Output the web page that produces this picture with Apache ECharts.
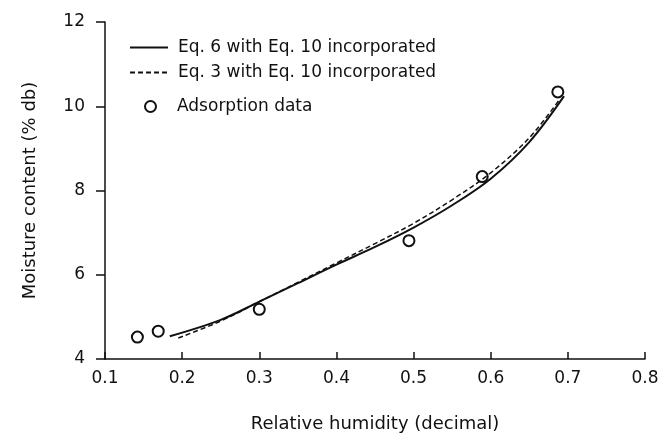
<html>
<head>
    <meta http-equiv="Content-Type" content="text/html; charset=utf-8" />
    <title>Moisture content</title>
    <style type="text/css">
        * {
            margin: 0;
            padding: 0
        }

        html,
        body {
            width: 100%;
            height: 100%;
            background: #fff;
        }

        #chart {
            width: 671px;
            height: 438px;
        }
    </style>
    <script src="https://cdn.jsdelivr.net/npm/echarts@6/dist/echarts.min.js"></script>
</head>

<body>
    <div id="chart"></div>
    <script>
        // x = relative humidity, y = moisture content (% db)
        const eq6X = [0.184, 0.25, 0.30, 0.35, 0.40, 0.45, 0.50, 0.55, 0.60, 0.65, 0.695];
        const eq6Y = [4.54, 4.93, 5.36, 5.80, 6.24, 6.66, 7.12, 7.65, 8.28, 9.15, 10.24];
        const eq3X = [0.195, 0.25, 0.30, 0.35, 0.40, 0.45, 0.50, 0.55, 0.60, 0.65, 0.69];
        const eq3Y = [4.50, 4.90, 5.36, 5.82, 6.28, 6.74, 7.22, 7.78, 8.42, 9.25, 10.18];
        const dataX = [0.142, 0.169, 0.300, 0.494, 0.589, 0.687];
        const dataY = [4.52, 4.66, 5.18, 6.81, 8.33, 10.34];
        const names = ['Eq. 6 with Eq. 10 incorporated', 'Eq. 3 with Eq. 10 incorporated', 'Adsorption data'];

        const pairs = (xs, ys) => xs.map((x, i) => [x, ys[i]]);
        const font = 'DejaVu Sans';
        const black = '#111';
        const legendText = { fontSize: 17, color: black, fontFamily: font, padding: [0, 0, 0, 5] };

        const chart = echarts.init(document.getElementById('chart'));
        chart.setOption({
            animation: false,
            textStyle: { fontFamily: font, color: black },
            grid: { left: 105, right: 26, top: 22, bottom: 75 },
            legend: [
                {
                    orient: 'vertical',
                    left: 124,
                    top: 34,
                    itemWidth: 38,
                    itemHeight: 14,
                    itemGap: 8,
                    textStyle: legendText,
                    data: [
                        { name: names[0], itemStyle: { opacity: 0 } },
                        { name: names[1], itemStyle: { opacity: 0 } }
                    ]
                },
                {
                    orient: 'vertical',
                    left: 139,
                    top: 93,
                    itemWidth: 33,
                    itemHeight: 11,
                    textStyle: legendText,
                    data: [{ name: names[2], icon: 'emptyCircle' }]
                }
            ],
            xAxis: {
                type: 'value',
                min: 0.1,
                max: 0.8,
                interval: 0.1,
                name: 'Relative humidity (decimal)',
                nameLocation: 'middle',
                nameGap: 56,
                nameTextStyle: { fontSize: 18, color: black },
                axisLine: { lineStyle: { color: black, width: 1.5 } },
                axisTick: { inside: true, length: 7, lineStyle: { color: black, width: 1.5 } },
                axisLabel: { fontSize: 17, color: black, margin: 11, formatter: v => v.toFixed(1) },
                splitLine: { show: false }
            },
            yAxis: {
                type: 'value',
                min: 4,
                max: 12,
                interval: 2,
                name: 'Moisture content (% db)',
                nameLocation: 'middle',
                nameGap: 66,
                nameTextStyle: { fontSize: 18, color: black },
                axisLine: { lineStyle: { color: black, width: 1.5 } },
                axisTick: { length: 9, lineStyle: { color: black, width: 1.5 } },
                axisLabel: { fontSize: 17, color: black, margin: 20 },
                splitLine: { show: false }
            },
            series: [
                {
                    name: names[0],
                    type: 'line',
                    smooth: 0.35,
                    symbol: 'none',
                    lineStyle: { color: black, width: 2 },
                    itemStyle: { color: black },
                    data: pairs(eq6X, eq6Y)
                },
                {
                    name: names[1],
                    type: 'line',
                    smooth: 0.35,
                    symbol: 'none',
                    lineStyle: { color: black, width: 1.5, type: [5, 3] },
                    itemStyle: { color: black },
                    data: pairs(eq3X, eq3Y)
                },
                {
                    name: names[2],
                    type: 'scatter',
                    symbol: 'emptyCircle',
                    symbolSize: 11,
                    itemStyle: { color: black, borderWidth: 1.5, opacity: 1 },
                    data: pairs(dataX, dataY)
                }
            ]
        });
    </script>
</body>

</html>
